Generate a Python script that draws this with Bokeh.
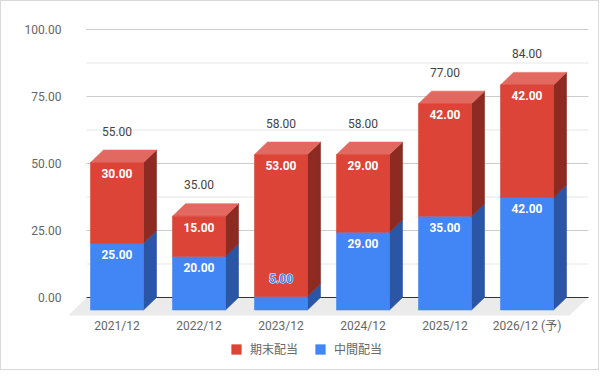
from bokeh.plotting import figure
from bokeh.models import Range1d, FixedTicker, NumeralTickFormatter, Legend, LegendItem
from bokeh.embed import file_html
from bokeh.resources import INLINE
from bokeh.core.properties import value

# ---- data ----
categories = ["2021/12", "2022/12", "2023/12", "2024/12", "2025/12", "2026/12 (予)"]
interim = [25, 20, 5, 29, 35, 42]      # 中間配当
final = [30, 15, 53, 29, 42, 42]       # 期末配当
y_ticks = [0, 25, 50, 75, 100]
minor_ticks = [12.5, 37.5, 62.5, 87.5]
name_final = "期末配当"
name_interim = "中間配当"

totals = [a + b for a, b in zip(interim, final)]

# ---- geometry / style ----
FONT = "Roboto, 'Noto Sans CJK JP', sans-serif"
PX_X = 82.0          # px per category
PX_Y = 2.68          # px per unit
DX = 13.0 / PX_X     # 3D depth (x)
DY = 12.5 / PX_Y     # 3D depth (y)
HW = 26.5 / PX_X     # half bar width
FLOOR = 18.0 / PX_Y  # floor depth (y)
RED, RED_TOP, RED_SIDE = "#DB4437", "#E2695F", "#8D2A22"
BLUE, BLUE_SIDE = "#4285F4", "#2B56A5"

n = len(categories)
p = figure(width=599, height=370, output_backend="svg", toolbar_location=None,
           x_range=Range1d(-0.6524, 5.8598), y_range=Range1d(-26.119, 106.716),
           min_border_left=62, min_border_right=3, min_border_top=10, min_border_bottom=4)
p.outline_line_color = None
p.xgrid.visible = False
p.ygrid.visible = False
p.styles = {"border": "1px solid #d9d9d9"}

# grid lines (back plane)
gx0, gx1 = -0.372, (n - 1) + 0.75
p.segment(x0=[gx0] * len(minor_ticks), x1=[gx1] * len(minor_ticks), y0=minor_ticks, y1=minor_ticks,
          line_color="#e6e6e6", line_width=1)
maj = [t for t in y_ticks if t != 0]
p.segment(x0=[gx0] * len(maj), x1=[gx1] * len(maj), y0=maj, y1=maj,
          line_color="#cccccc", line_width=1)

# floor
p.patch(x=[-0.5915, (n - 1) + 0.518, gx1, gx0], y=[-FLOOR, -FLOOR, 0, 0],
        fill_color="#ebebeb", line_color=None)
# zero line
p.segment(x0=[gx0], x1=[gx1], y0=[0], y1=[0], line_color="#333333", line_width=1.2)

# bars
bf_x, bf_y, bs_x, bs_y = [], [], [], []
rf_x, rf_y, rs_x, rs_y, rt_x, rt_y = [], [], [], [], [], []
for i in range(n):
    b = interim[i]
    t = totals[i]
    x0, x1 = i - HW, i + HW
    bf_x.append([x0, x1, x1, x0]); bf_y.append([-DY, -DY, b - DY, b - DY])
    bs_x.append([x1, x1 + DX, x1 + DX, x1]); bs_y.append([-DY, 0, b, b - DY])
    rf_x.append([x0, x1, x1, x0]); rf_y.append([b - DY, b - DY, t - DY, t - DY])
    rs_x.append([x1, x1 + DX, x1 + DX, x1]); rs_y.append([b - DY, b, t, t - DY])
    rt_x.append([x0, x1, x1 + DX, x0 + DX]); rt_y.append([t - DY, t - DY, t, t])

p.patches(bs_x, bs_y, fill_color=BLUE_SIDE, line_color=BLUE_SIDE, line_width=0.6)
blue_front = p.patches(bf_x, bf_y, fill_color=BLUE, line_color=BLUE, line_width=0.6)
p.patches(rs_x, rs_y, fill_color=RED_SIDE, line_color=RED_SIDE, line_width=0.6)
p.patches(rt_x, rt_y, fill_color=RED_TOP, line_color=RED_TOP, line_width=0.6)
red_front = p.patches(rf_x, rf_y, fill_color=RED, line_color=RED, line_width=0.6)

# total labels
p.text(x=list(range(n)), y=totals, text=[f"{v:.2f}" for v in totals],
       text_align="center", text_baseline="middle", text_font=value(FONT),
       text_font_size="12px", text_color="#444444", y_offset=-19)

# inner labels
red_lbl_y = [t - DY for t in totals]
p.text(x=list(range(n)), y=red_lbl_y, text=[f"{v:.2f}" for v in final],
       text_align="center", text_baseline="middle", text_font=value(FONT),
       text_font_size="12px", text_font_style="bold", text_color="white", y_offset=11)

in_x, in_y, in_t, out_x, out_y, out_t = [], [], [], [], [], []
for i, v in enumerate(interim):
    if v * PX_Y >= 24:
        in_x.append(i); in_y.append(v - DY); in_t.append(f"{v:.2f}")
    else:
        out_x.append(i); out_y.append(v - DY); out_t.append(f"{v:.2f}")
p.text(x=in_x, y=in_y, text=in_t, text_align="center", text_baseline="middle",
       text_font=value(FONT), text_font_size="12px", text_font_style="bold",
       text_color="white", y_offset=11)
# small segment label: white halo underneath, blue text on top
p.text(x=out_x, y=out_y, text=out_t, text_align="center", text_baseline="middle",
       text_font=value(FONT), text_font_size="12px", text_font_style="bold",
       text_color="white", text_outline_color="white", y_offset=-18)
p.text(x=out_x, y=out_y, text=out_t, text_align="center", text_baseline="middle",
       text_font=value(FONT), text_font_size="12px", text_font_style="bold",
       text_color=BLUE, y_offset=-18)

# axes
p.yaxis.ticker = FixedTicker(ticks=y_ticks)
p.yaxis.formatter = NumeralTickFormatter(format="0.00")
p.yaxis.axis_line_color = None
p.yaxis.major_tick_out = 0
p.yaxis.major_tick_in = 0
p.yaxis.minor_tick_out = 0
p.yaxis.minor_tick_in = 0
p.yaxis.major_label_standoff = 2
p.yaxis.major_label_text_font = FONT
p.yaxis.major_label_text_font_size = "12px"
p.yaxis.major_label_text_color = "#666666"

p.xaxis.fixed_location = -FLOOR
p.xaxis.ticker = FixedTicker(ticks=list(range(n)))
p.xaxis.major_label_overrides = {i: c for i, c in enumerate(categories)}
p.xaxis.axis_line_color = None
p.xaxis.major_tick_out = 0
p.xaxis.major_tick_in = 0
p.xaxis.minor_tick_out = 0
p.xaxis.minor_tick_in = 0
p.xaxis.major_label_standoff = 3
p.xaxis.major_label_text_font = FONT
p.xaxis.major_label_text_font_size = "12px"
p.xaxis.major_label_text_color = "#666666"

legend = Legend(items=[LegendItem(label=name_final, renderers=[red_front]),
                       LegendItem(label=name_interim, renderers=[blue_front])],
                orientation="horizontal", location=(167, 10),
                border_line_color=None, background_fill_alpha=0,
                glyph_width=12, glyph_height=12, label_height=12, label_standoff=8,
                spacing=16, padding=0, margin=0,
                label_text_font=FONT, label_text_font_size="12px", label_text_color="#666666")
p.add_layout(legend, "center")

open("out.html", "w").write(file_html(p, INLINE))
